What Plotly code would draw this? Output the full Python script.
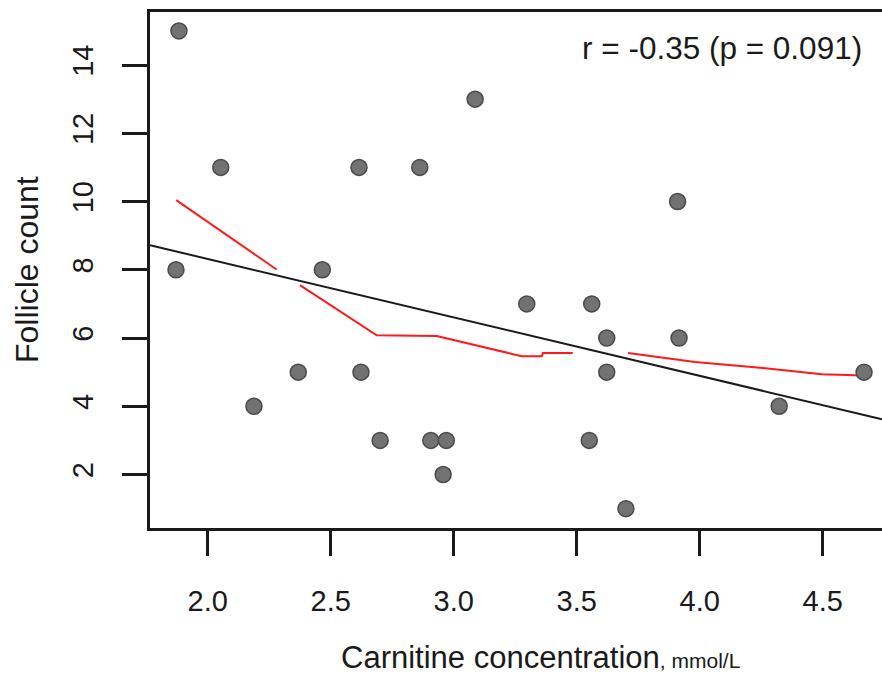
import plotly.graph_objects as go

# ---- data ----
carnitine = [1.883, 1.871, 2.053, 2.188, 2.368, 2.466, 2.615, 2.623, 2.701, 2.862,
             2.907, 2.970, 2.957, 3.087, 3.297, 3.551, 3.561, 3.622, 3.622, 3.700,
             3.910, 3.916, 4.323, 4.668]
follicles = [15, 8, 11, 4, 5, 8, 11, 5, 3, 11,
             3, 3, 2, 13, 7, 3, 7, 6, 5, 1,
             10, 6, 4, 5]

# lowess smoother as drawn (None = gap visible in the picture)
lowess_x = [1.872, 2.280, None, 2.375, 2.687, 2.931, 3.276, 3.358, 3.363, 3.484, None,
            3.709, 3.981, 4.257, 4.496, 4.664]
lowess_y = [10.04, 8.01, None, 7.55, 6.08, 6.06, 5.47, 5.47, 5.56, 5.56, None,
            5.56, 5.30, 5.12, 4.94, 4.90]

fit_intercept = 11.744
fit_slope = -1.713

x_range = [1.7654, 4.741]
y_range = [0.434, 15.554]
x_ticks = [2.0, 2.5, 3.0, 3.5, 4.0, 4.5]
y_ticks = [2, 4, 6, 8, 10, 12, 14]

annot_text = "r = -0.35 (p = 0.091)"
x_title_main = "Carnitine concentration"
x_title_unit = ", mmol/L"
y_title = "Follicle count"

FONT = "Liberation Sans, Arial, sans-serif"
TXT = "#1a1a1a"

fig = go.Figure()

fig.add_trace(go.Scatter(
    x=x_range, y=[fit_intercept + fit_slope * v for v in x_range],
    mode="lines", line=dict(color="#1a1a1a", width=2), hoverinfo="skip"))

fig.add_trace(go.Scatter(
    x=lowess_x, y=lowess_y, mode="lines", connectgaps=False,
    line=dict(color="#ff1a1a", width=2), hoverinfo="skip"))

fig.add_trace(go.Scatter(
    x=carnitine, y=follicles, mode="markers",
    marker=dict(size=16, color="#727272", line=dict(color="#4a4a4a", width=1.5))))

fig.update_layout(
    width=882, height=675,
    margin=dict(l=150, r=0, t=12, b=147, autoexpand=False),
    paper_bgcolor="white", plot_bgcolor="white",
    showlegend=False,
    font=dict(family=FONT, color=TXT),
)

fig.update_xaxes(
    range=x_range, tickvals=x_ticks, ticktext=[f"{v:.1f}" for v in x_ticks],
    showgrid=False, zeroline=False,
    showline=True, mirror=True, linecolor="#1a1a1a", linewidth=2.5,
    ticks="outside", ticklen=25, tickwidth=2.5, tickcolor="#1a1a1a",
    ticklabelstandoff=20,
    tickfont=dict(size=29, family=FONT, color=TXT),
)
fig.update_yaxes(
    range=y_range, tickvals=y_ticks, ticktext=[str(v) for v in y_ticks],
    showgrid=False, zeroline=False,
    showline=True, mirror=False, linecolor="#1a1a1a", linewidth=2.5,
    ticks="outside", ticklen=25, tickwidth=2.5, tickcolor="#1a1a1a",
    tickangle=-90, ticklabelstandoff=18,
    tickfont=dict(size=29, family=FONT, color=TXT),
)

fig.add_annotation(
    xref="paper", yref="paper", x=0.781, y=0.930,
    xanchor="center", yanchor="middle", showarrow=False,
    text=annot_text, font=dict(size=31.5, family=FONT, color=TXT))

fig.add_annotation(
    xref="paper", yref="paper", x=0.534, y=-0.25,
    xanchor="center", yanchor="middle", showarrow=False,
    text=x_title_main + f"<span style='font-size:21px'>{x_title_unit}</span>",
    font=dict(size=31, family=FONT, color=TXT))

fig.add_annotation(
    xref="paper", yref="paper", x=-0.168, y=0.5,
    xanchor="center", yanchor="middle", showarrow=False, textangle=-90,
    text=y_title, font=dict(size=32, family=FONT, color=TXT))

fig.write_html("out.html", config={"displayModeBar": False},
               post_script="document.body.style.margin='0';document.body.style.padding='0';")
